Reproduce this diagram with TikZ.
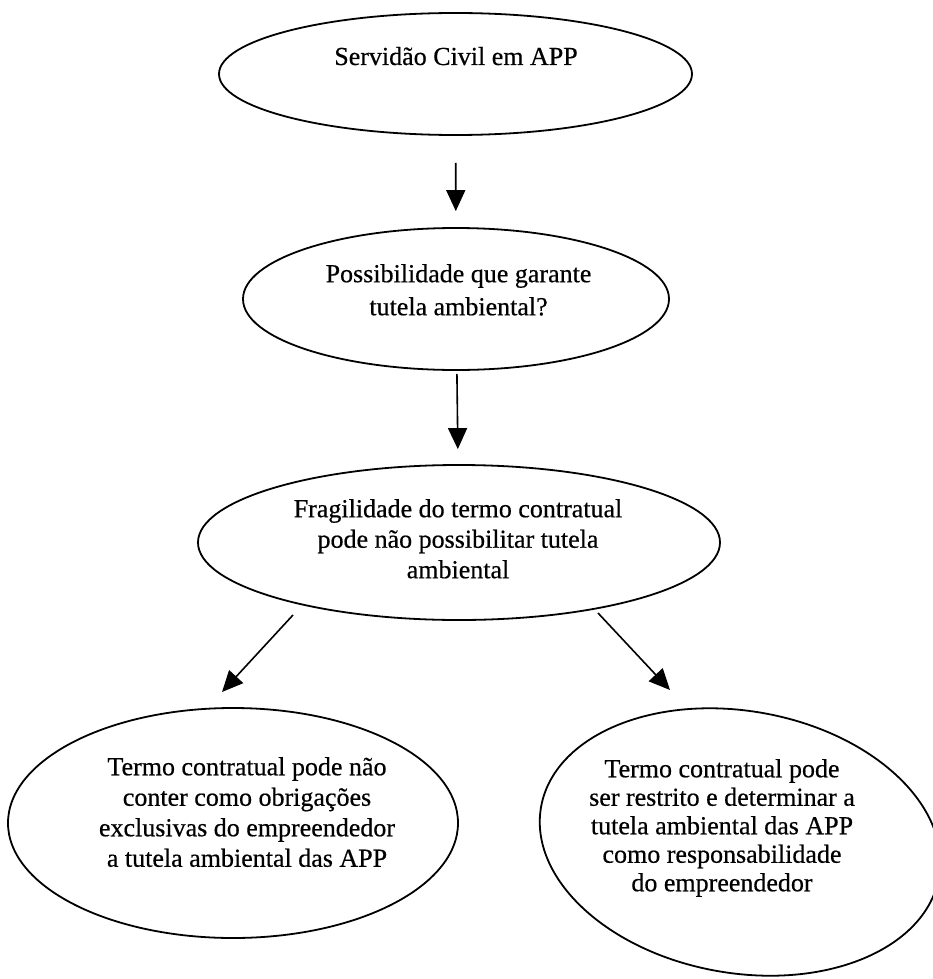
\documentclass[tikz,border=0pt]{standalone}
\usepackage{fontspec}
\setmainfont{Liberation Serif}
\newfontfamily\scanfont{Liberation Serif}[FakeBold=0.5]
\usetikzlibrary{shapes.geometric,arrows.meta}

\begin{document}
\begin{tikzpicture}[x=1pt,y=-1pt,
    oval/.style={ellipse,draw,line width=1.8pt,inner sep=0pt},
    txt/.style={align=center,inner sep=0pt,font=\scanfont\fontsize{26}{30.5}\selectfont},
    arr/.style={-{Triangle[length=21pt,width=19pt]},line width=1.6pt}]
    \useasboundingbox (0,0) rectangle (932,979);
    \node[oval,minimum width=473pt,minimum height=122pt] (serv) at (455.5,74) {};
    \node[oval,minimum width=426pt,minimum height=142pt] (poss) at (456,299) {};
    \node[oval,minimum width=522pt,minimum height=155pt] (frag) at (459,542.5) {};
    \node[oval,minimum width=450pt,minimum height=230pt] (naocont) at (233,823) {};
    \node[oval,minimum width=404pt,minimum height=262pt,rotate=-10] (restr) at (740,842) {};
    \node[txt,anchor=base] (serv-t) at (456,65) {Servidão Civil em APP};
    \node[txt,anchor=north,font=\scanfont\fontsize{26}{33}\selectfont] (poss-t) at (458.5,264) {Possibilidade que garante\\tutela ambiental?};
    \node[txt,anchor=north] (frag-t) at (458,499) {Fragilidade do termo contratual\\pode não possibilitar tutela\\ambiental};
    \node[txt,anchor=north] (naocont-t) at (247,757) {Termo contratual pode não\\conter como obrigações\\exclusivas do empreendedor\\a tutela ambiental das APP};
    \node[txt,anchor=north,font=\scanfont\fontsize{26}{28.5}\selectfont] (restr-t) at (722,759) {Termo contratual pode\\ser restrito e determinar a\\tutela ambiental das APP\\como responsabilidade\\do empreendedor};
    \coordinate (l1) at (293,615);
    \coordinate (l2) at (222,692);
    \coordinate (r1) at (598,613);
    \coordinate (r2) at (670,690);
    \draw[arr,shorten <=27pt,shorten >=16pt] (serv) -- (poss);
    \draw[arr,shorten <=3pt,shorten >=15pt] (poss) -- (frag);
    \draw[arr] (l1) -- (l2);
    \draw[arr] (r1) -- (r2);
\end{tikzpicture}
\end{document}
